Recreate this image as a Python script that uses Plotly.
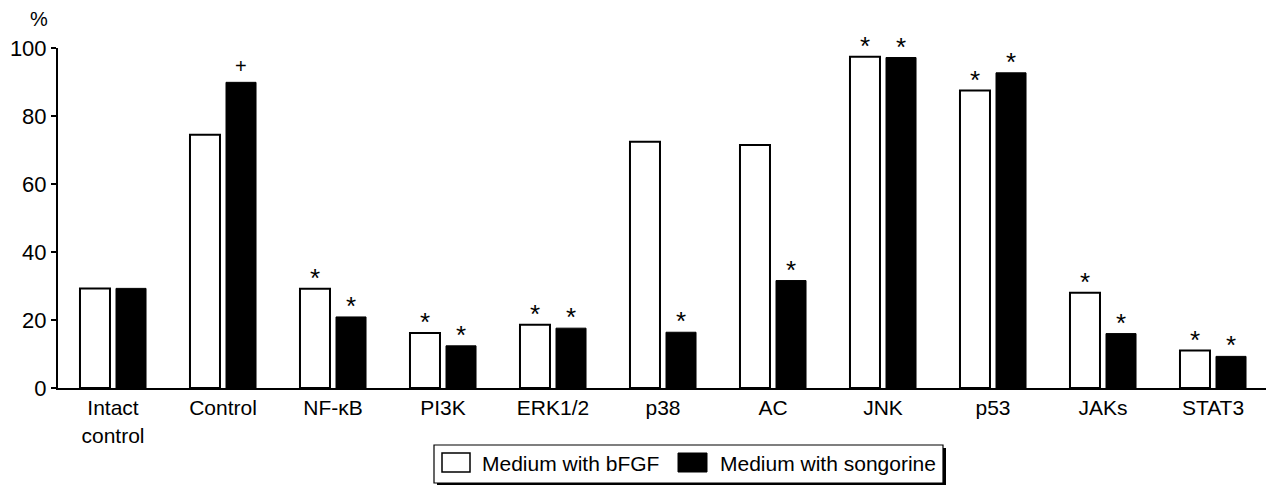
import plotly.graph_objects as go

categories = ["Intact<br>control", "Control", "NF-κB", "PI3K", "ERK1/2", "p38", "AC", "JNK", "p53", "JAKs", "STAT3"]
bfgf = [29.3, 74.5, 29.2, 16.2, 18.6, 72.4, 71.5, 97.4, 87.5, 28.0, 11.0]
songorine = [29.3, 89.9, 20.9, 12.4, 17.6, 16.4, 31.6, 97.2, 92.7, 16.0, 9.3]
bfgf_marks = ["", "", "*", "*", "*", "", "", "*", "*", "*", "*"]
songorine_marks = ["", "+", "*", "*", "*", "*", "*", "*", "*", "*", "*"]
series_names = ["Medium with bFGF", "Medium with songorine"]

FONT = "Liberation Sans, Arial, sans-serif"

# the page body has an 8px default margin; work in page pixels and compensate
OFF = 8
FW, FH = 1274 - OFF, 485 - OFF
# plot area in page pixels
L, R, T, B = 58, 1268, 48, 388
W, H = R - L, B - T


def px(x):
    return (x - L) / W


def py(y):
    return (B - y) / H


fig = go.Figure()
fig.add_trace(go.Bar(x=categories, y=bfgf, name=series_names[0], showlegend=False,
                     marker=dict(color="white", line=dict(color="black", width=2))))
fig.add_trace(go.Bar(x=categories, y=songorine, name=series_names[1], showlegend=False,
                     marker=dict(color="black", line=dict(color="black", width=1))))

ann = []
for i, (v, m) in enumerate(zip(bfgf, bfgf_marks)):
    if m:
        ann.append(dict(x=i, y=v, xref="x", yref="y", text=m, showarrow=False,
                        xshift=-18, yshift=11, yanchor="middle",
                        font=dict(size=26, color="black", family=FONT)))
for i, (v, m) in enumerate(zip(songorine, songorine_marks)):
    if m:
        ann.append(dict(x=i, y=v, xref="x", yref="y", text=m, showarrow=False,
                        xshift=18, yshift=(16 if m == "+" else 11), yanchor="middle",
                        font=dict(size=(20 if m == "+" else 26), color="black", family=FONT)))
ann.append(dict(x=px(39), y=py(19), xref="paper", yref="paper", text="%", showarrow=False,
                xanchor="center", yanchor="middle",
                font=dict(size=20, color="black", family=FONT)))

# legend (drawn as shapes + text)
shapes = [
    dict(type="rect", xref="paper", yref="paper", x0=px(437), x1=px(946), y0=py(486), y1=py(448),
         fillcolor="black", line=dict(width=0), layer="above"),
    dict(type="rect", xref="paper", yref="paper", x0=px(434), x1=px(943), y0=py(483), y1=py(445),
         fillcolor="white", line=dict(color="black", width=1.2), layer="above"),
    dict(type="rect", xref="paper", yref="paper", x0=px(442), x1=px(470), y0=py(472), y1=py(453),
         fillcolor="white", line=dict(color="black", width=1.5), layer="above"),
    dict(type="rect", xref="paper", yref="paper", x0=px(678), x1=px(707), y0=py(472), y1=py(453),
         fillcolor="black", line=dict(color="black", width=1), layer="above"),
]
ann.append(dict(x=px(480), y=py(463), xref="paper", yref="paper", text=series_names[0],
                showarrow=False, xanchor="left", yanchor="middle",
                font=dict(size=21, color="black", family=FONT)))
ann.append(dict(x=px(718), y=py(463), xref="paper", yref="paper", text=series_names[1],
                showarrow=False, xanchor="left", yanchor="middle",
                font=dict(size=21, color="black", family=FONT)))

fig.update_layout(
    width=FW, height=FH,
    margin=dict(l=L - OFF, r=1274 - R, t=T - OFF, b=485 - B, autoexpand=False),
    paper_bgcolor="white", plot_bgcolor="white",
    barmode="group", bargap=0.345, bargroupgap=0.167,
    font=dict(family=FONT, color="black", size=21),
    annotations=ann, shapes=shapes,
    showlegend=False,
)
fig.update_xaxes(type="category", range=[-0.5, 10.5], showline=True, linecolor="black",
                 linewidth=2, ticks="", tickfont=dict(size=21, family=FONT, color="black"),
                 showgrid=False, zeroline=False, automargin=False)
fig.update_yaxes(range=[0, 100], tickvals=[0, 20, 40, 60, 80, 100], showline=True,
                 linecolor="black", linewidth=2, ticks="outside", ticklen=5, tickwidth=2,
                 tickcolor="black", tickfont=dict(size=22, family=FONT, color="black"),
                 showgrid=False, zeroline=False, automargin=False)

fig.write_html("out.html")
